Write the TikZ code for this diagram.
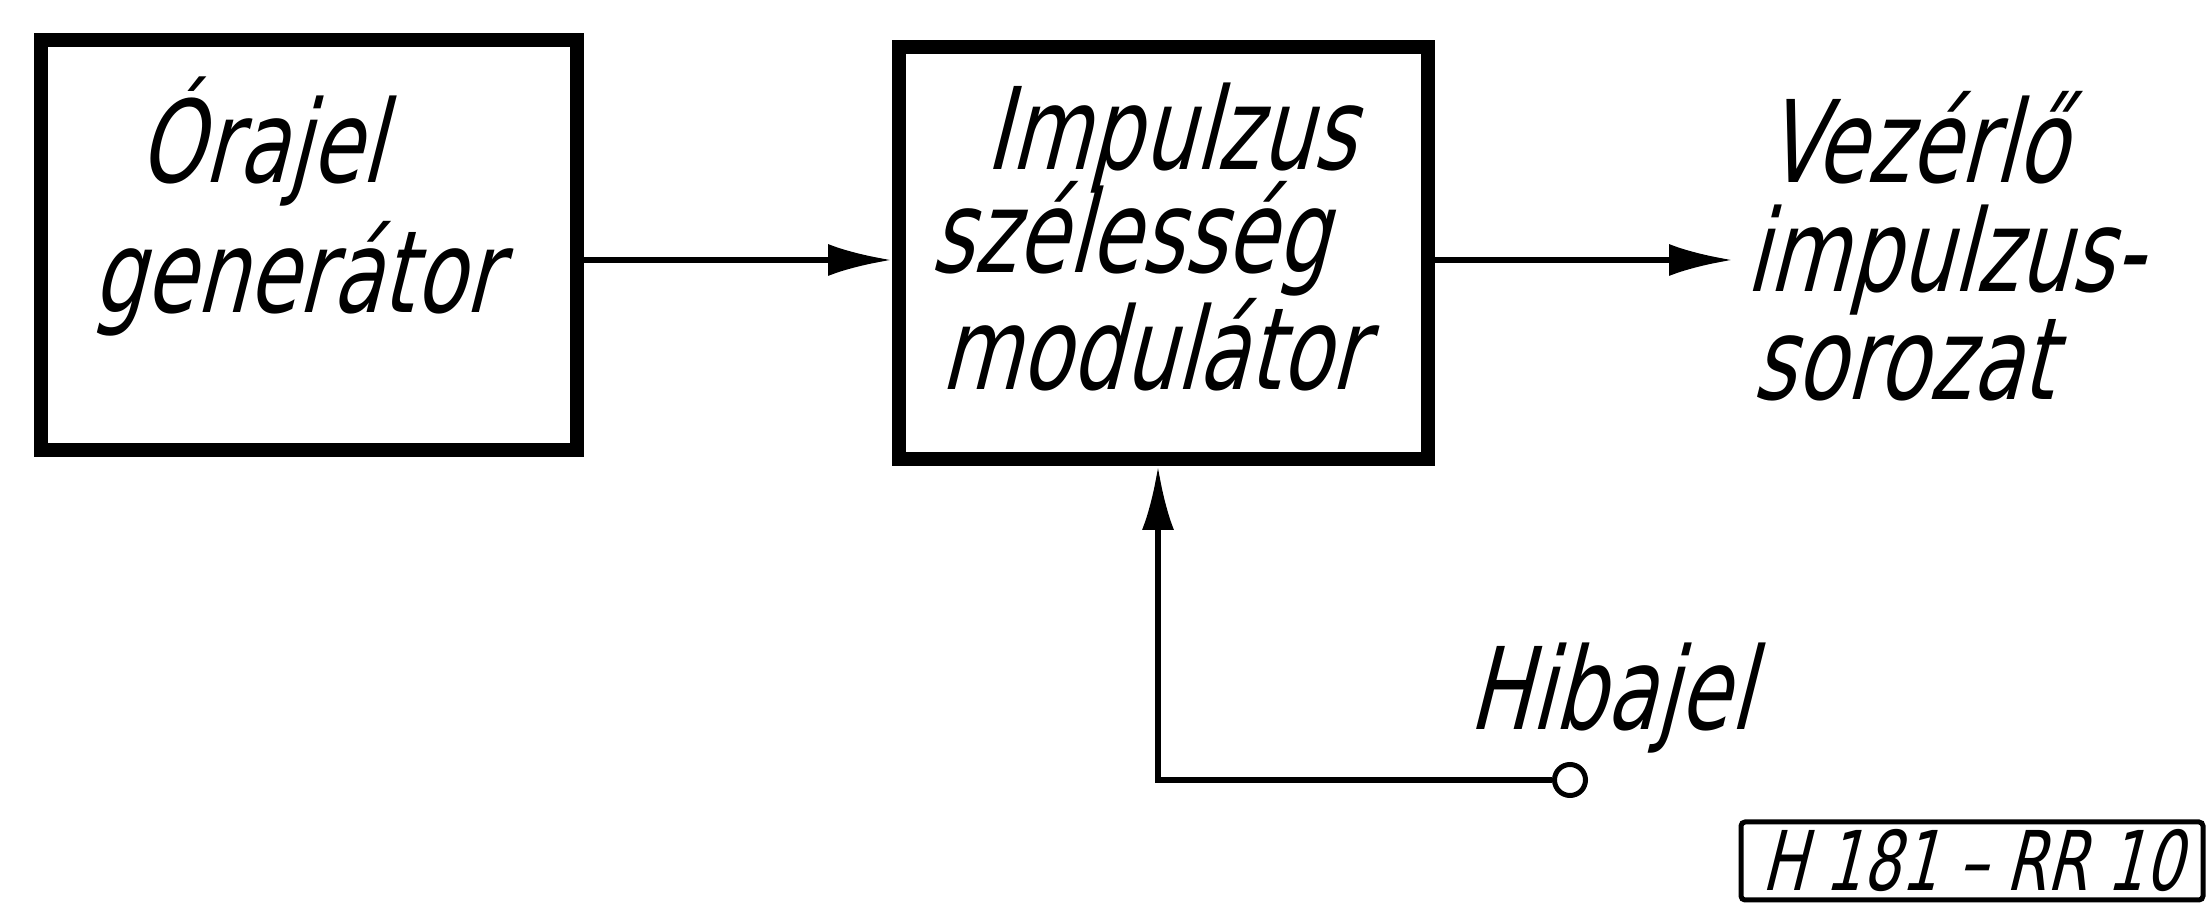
\documentclass[tikz,border=0pt]{standalone}
\usepackage{fontspec}
\usetikzlibrary{arrows.meta}
\newfontfamily\letterfont[FakeStretch=0.72,FakeSlant=0.25]{DejaVu Sans}

\tikzset{
  blockbox/.style={draw, line width=3.5pt, inner sep=0pt},
  sigline/.style={line width=1.5pt},
  sigarrow/.style={sigline, -{Latex[length=16pt,width=8pt]}},
  lettering/.style={font=\letterfont\fontsize{28.5pt}{30pt}\selectfont, inner sep=0pt, anchor=base west},
}

\begin{document}
\begin{tikzpicture}[x=0.25pt,y=0.25pt,yscale=-1,xscale=1]
        \useasboundingbox (0,0) rectangle (2208,907);

        %Blocks
        \node [blockbox, minimum width=134pt, minimum height=102.5pt] (gen) at (309,245) {};
        \node [blockbox, minimum width=132.25pt, minimum height=103pt] (mod) at (1163.5,253) {};

        % Text Node
        \node [lettering] (gen1) at (138,183) {Órajel};
        % Text Node
        \node [lettering] (gen2) at (92,313) {generátor};
        % Text Node
        \node [lettering] (mod1) at (985,170) {Impulzus};
        % Text Node
        \node [lettering] (mod2) at (930,273) {szélesség};
        % Text Node
        \node [lettering] (mod3) at (940,390) {modulátor};
        % Text Node
        \node [lettering] (out1) at (1765,183) {Vezérlő};
        % Text Node
        \node [lettering] (out2) at (1745,292) {impulzus-};
        % Text Node
        \node [lettering] (out3) at (1752,400) {sorozat};
        % Text Node
        \node [lettering] (errtext) at (1468,730) {Hibajel};

        %Signal levels
        \coordinate (sig) at (0,260);
        \coordinate (outtip) at (1733,260);
        \coordinate (fbx) at (1158,0);

        %Straight Lines
        \draw [sigarrow] (gen.east |- sig) -- (mod.west |- sig);
        %Straight Lines
        \draw [sigarrow] (mod.east |- sig) -- (outtip);

        %Input terminal
        \node [draw, circle, line width=1.25pt, minimum size=7.75pt, inner sep=0pt] (err) at (1570,780) {};
        %Straight Lines
        \draw [sigarrow] (err.west) -| (mod.south -| fbx);

        %Drawing code
        \node [draw, line width=1.25pt, rounded corners=1pt, minimum width=115.5pt, minimum height=19.5pt, inner sep=0pt,
          font=\letterfont\fontsize{20.6pt}{22pt}\selectfont] (code) at (1972,861) {H 181 – RR 10};

\end{tikzpicture}
\end{document}
